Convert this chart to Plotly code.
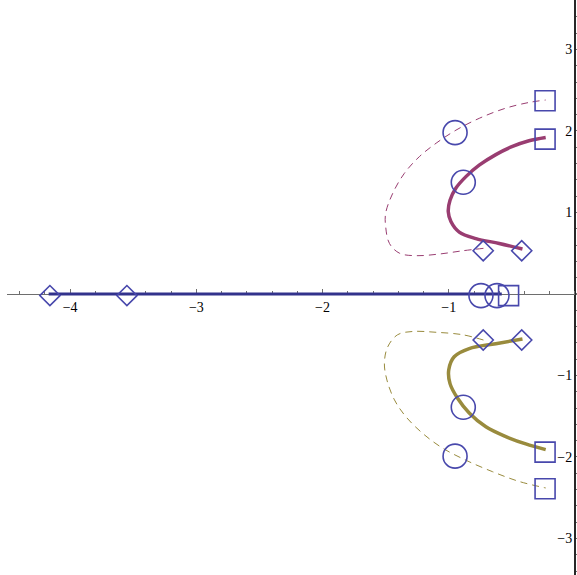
import plotly.graph_objects as go

# Upper solid locus (magenta)
up_solid_x = [-0.416, -0.60, -0.785, -0.917, -0.983, -1.004, -0.99, -0.943, -0.864, -0.759, -0.627, -0.495, -0.364, -0.232]
up_solid_y = [0.552, 0.62, 0.68, 0.76, 0.89, 1.01, 1.15, 1.30, 1.44, 1.58, 1.71, 1.81, 1.88, 1.92]
# Upper dashed locus (magenta)
up_dash_x = [-0.725, -0.89, -1.075, -1.26, -1.39, -1.47, -1.50, -1.50, -1.444, -1.352, -1.233, -1.10, -0.943, -0.759, -0.548, -0.364, -0.232]
up_dash_y = [0.56, 0.53, 0.49, 0.47, 0.50, 0.62, 0.83, 0.99, 1.235, 1.48, 1.685, 1.85, 2.01, 2.155, 2.28, 2.35, 2.38]
# Lower solid locus (olive)
lo_solid_x = [-0.416, -0.627, -0.838, -0.957, -1.0, -0.99, -0.93, -0.838, -0.706, -0.548, -0.39, -0.232]
lo_solid_y = [-0.552, -0.61, -0.67, -0.77, -0.93, -1.10, -1.28, -1.46, -1.63, -1.75, -1.84, -1.91]
# Lower dashed locus (olive)
lo_dash_x = [-0.725, -0.89, -1.10, -1.286, -1.405, -1.484, -1.51, -1.49, -1.43, -1.34, -1.207, -1.05, -0.864, -0.654, -0.443, -0.232]
lo_dash_y = [-0.565, -0.50, -0.47, -0.46, -0.50, -0.65, -0.85, -1.055, -1.30, -1.505, -1.71, -1.89, -2.04, -2.18, -2.30, -2.38]
# Real-axis locus
real_x = [-4.17, -0.58]
real_y = [0.0, 0.0]

# Markers
diamond_x = [-4.16, -3.55, -0.727, -0.422, -0.727, -0.422]
diamond_y = [-0.02, -0.02, 0.53, 0.53, -0.565, -0.565]
circle_x = [-0.745, -0.618, -0.95, -0.885, -0.95, -0.885]
circle_y = [-0.02, -0.02, 1.98, 1.37, -1.99, -1.39]
square_x = [-0.526, -0.237, -0.237, -0.237, -0.237]
square_y = [-0.02, 2.37, 1.90, -1.94, -2.39]

x_ticks = [-4, -3, -2, -1]
y_ticks = [-3, -2, -1, 1, 2, 3]

blue = "rgb(50,50,140)"
magenta = "rgb(153,61,113)"
olive = "rgb(153,139,61)"
mark = "rgb(72,72,172)"
axis_col = "rgb(110,110,110)"

xr = [-4.5, 0.016]
yr = [-3.448, 3.607]

fig = go.Figure()
fig.add_trace(go.Scatter(x=up_dash_x, y=up_dash_y, mode="lines", line=dict(color=magenta, width=1, dash="7px,5px", shape="spline")))
fig.add_trace(go.Scatter(x=lo_dash_x, y=lo_dash_y, mode="lines", line=dict(color=olive, width=1, dash="7px,5px", shape="spline")))
fig.add_trace(go.Scatter(x=up_solid_x, y=up_solid_y, mode="lines", line=dict(color=magenta, width=3.5, shape="spline")))
fig.add_trace(go.Scatter(x=lo_solid_x, y=lo_solid_y, mode="lines", line=dict(color=olive, width=3.5, shape="spline")))
fig.add_trace(go.Scatter(x=real_x, y=real_y, mode="lines", line=dict(color=blue, width=3.2)))
fig.add_trace(go.Scatter(x=diamond_x, y=diamond_y, mode="markers", cliponaxis=False,
                         marker=dict(symbol="diamond-open", size=15.5, color=mark, line=dict(width=1.6, color=mark))))
fig.add_trace(go.Scatter(x=circle_x, y=circle_y, mode="markers", cliponaxis=False,
                         marker=dict(symbol="circle-open", size=24, color=mark, line=dict(width=1.6, color=mark))))
fig.add_trace(go.Scatter(x=square_x, y=square_y, mode="markers", cliponaxis=False,
                         marker=dict(symbol="square-open", size=20, color=mark, line=dict(width=1.6, color=mark))))

y0_frac = (0 - yr[0]) / (yr[1] - yr[0])
x0_frac = (0 - xr[0]) / (xr[1] - xr[0])

axis_font = dict(family="Liberation Serif", size=14, color="black")
fig.update_layout(
    width=577, height=575,
    margin=dict(l=7, r=0, t=0, b=0),
    paper_bgcolor="white", plot_bgcolor="white",
    showlegend=False,
    xaxis=dict(range=xr, anchor="free", position=y0_frac, showgrid=False, layer="below traces",
               zeroline=True, zerolinecolor="rgb(40,40,40)", zerolinewidth=1,
               showline=True, linecolor=axis_col, linewidth=1,
               tickmode="array", tickvals=x_ticks, ticks="inside", ticklen=5, tickcolor=axis_col,
               tickfont=axis_font,
               minor=dict(dtick=0.2, tick0=0, ticks="inside", ticklen=3, tickcolor=axis_col, showgrid=False)),
    yaxis=dict(range=yr, anchor="free", position=x0_frac, side="left", showgrid=False, zeroline=False, layer="below traces",
               showline=True, linecolor="rgb(40,40,40)", linewidth=1,
               tickmode="array", tickvals=y_ticks, ticks="inside", ticklen=5, tickcolor=axis_col,
               tickfont=axis_font,
               minor=dict(dtick=0.2, tick0=0, ticks="inside", ticklen=3, tickcolor=axis_col, showgrid=False)),
)

fig.write_html("out.html", config={"displayModeBar": False},
               post_script="document.body.style.margin='0';document.body.style.overflow='hidden';")
